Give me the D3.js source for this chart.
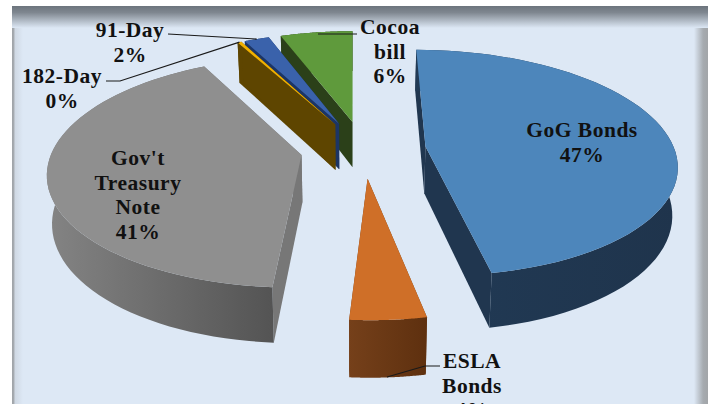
<!DOCTYPE html>
<html>
<head>
<meta charset="utf-8">
<script src="https://cdn.jsdelivr.net/npm/d3@7/dist/d3.min.js"></script>
<style>
html,body{margin:0;padding:0;background:#fff;overflow:hidden}
text{font-family:"Liberation Serif",serif;font-weight:700;fill:#111;font-size:21.5px;letter-spacing:.5px}
</style>
</head>
<body>
<svg id="chart" width="711" height="404"></svg>
<script>
// Portfolio shares, in drawing order around the pie (clockwise from twelve o'clock)
const categories = ["GoG Bonds", "ESLA Bonds", "Gov't Treasury Note", "182-Day", "91-Day", "Cocoa bill"];
const shares = [47.0, 4.1, 41.2, 0.3, 1.9, 5.5];
const shareLabels = ["47%", "4%", "41%", "0%", "2%", "6%"];
const topColors = ["#4d86bb", "#cf6f28", "#8f8f8f", "#f0b000", "#3a62ab", "#5f9a3c"];
const wallColors = ["#20364f", "#6f3b15", "#777777", "#5e4500", "#1c3565", "#2b4019"];
const rimStart = ["#213a55", "#75401a", "#848484", "#5e4500", "#1c3565", "#2b4019"];
const rimEnd = ["#1f344c", "#5e300f", "#545454", "#5e4500", "#1c3565", "#2b4019"];

// Camera model for the tilted disc: points converge on a vanishing point
const W = 711, H = 404;
const vanish = {x: 353, y: -615};
const planeY = 780;           // screen distance from the vanishing point at depth 0
const depthK = 5.95e-4;       // perspective strength
const radiusX = 254;
const radiusZ = 250;
const explode = 64;
const centre = {x: 10.5, z: 35};
const thickness = 48;
const lowerShrink = 0.983;

function project(X, Z, lower) {
  const s = 1 / (1 + depthK * Z);
  return [
    vanish.x + X * s * (lower ? lowerShrink : 1),
    vanish.y + planeY * s + (lower ? thickness * s : 0)
  ];
}

const svg = d3.select("#chart");
const defs = svg.append("defs");

// Panel backdrop with its soft bevel along the top and sides
const panel = {x: 12, y: 6, w: 696, h: 398};
const band = (id, x1, y1, x2, y2, stops) => {
  const g = defs.append("linearGradient").attr("id", id)
    .attr("x1", x1).attr("y1", y1).attr("x2", x2).attr("y2", y2);
  stops.forEach(([o, c]) => g.append("stop").attr("offset", o).attr("stop-color", c));
};
const paper = "#dde8f5";
band("bevelTop", 0, 0, 0, 1, [[0, "#6c747d"], [0.3, "#7f8790"], [1, paper]]);
band("bevelLeft", 0, 0, 1, 0, [[0, "#9fa3a7"], [0.2, "#a8adb3"], [0.25, "#cfd8e3"], [1, paper]]);
band("bevelRight", 1, 0, 0, 0, [[0, "#a2a5a8"], [0.35, "#a6abb0"], [1, paper]]);
const backdrop = [
  [panel.x, panel.y, panel.w, panel.h, paper],
  [panel.x, panel.y, 11, panel.h, "url(#bevelLeft)"],
  [panel.x + panel.w - 14, panel.y, 14, panel.h, "url(#bevelRight)"],
  [panel.x, panel.y, panel.w, 22, "url(#bevelTop)"]
];
svg.selectAll("rect.bg").data(backdrop).join("rect").attr("class", "bg")
  .attr("x", d => d[0]).attr("y", d => d[1]).attr("width", d => d[2]).attr("height", d => d[3]).attr("fill", d => d[4]);

const arcs = d3.pie().sort(null).value(d => d)(shares);
const line = d3.line();

// Geometry of one exploded slice, in disc coordinates
function sliceGeometry(a) {
  const mid = (a.startAngle + a.endAngle) / 2;
  const ax = centre.x + explode * Math.sin(mid);
  const az = centre.z + explode * Math.cos(mid);
  const steps = d3.range(0, 61).map(i => a.startAngle + (a.endAngle - a.startAngle) * i / 60);
  const rimPts = steps.map(t => [ax + radiusX * Math.sin(t), az + radiusZ * Math.cos(t)]);
  return {ax, az, rimPts, mid};
}

// Painter's order: back slices first, nearest slices last
const paintOrder = [5, 4, 3, 2, 0, 1];
const sliceLayer = svg.append("g");

paintOrder.forEach(i => {
  const a = arcs[i];
  const {ax, az, rimPts} = sliceGeometry(a);
  const g = sliceLayer.append("g").attr("class", "slice");

  const gradId = "rim" + i;
  const top = rimPts.map(p => project(p[0], p[1], false));
  const bottom = rimPts.map(p => project(p[0], p[1], true));
  const xs = d3.extent(top, p => p[0]);
  const lg = defs.append("linearGradient").attr("id", gradId).attr("gradientUnits", "userSpaceOnUse")
    .attr("x1", xs[0]).attr("x2", xs[1]).attr("y1", 0).attr("y2", 0);
  lg.append("stop").attr("offset", 0).attr("stop-color", rimStart[i]);
  lg.append("stop").attr("offset", 1).attr("stop-color", rimEnd[i]);

  const apexTop = project(ax, az, false), apexLow = project(ax, az, true);

  // Radial walls
  [0, rimPts.length - 1].forEach(k => {
    g.append("path").attr("fill", wallColors[i])
      .attr("d", line([apexTop, top[k], bottom[k], apexLow]) + "Z");
  });
  // Curved outer wall
  g.append("path").attr("fill", `url(#${gradId})`)
    .attr("d", line(top.concat(bottom.slice().reverse())) + "Z");
  // Top face
  g.append("path").attr("fill", topColors[i])
    .attr("d", line([apexTop].concat(top)) + "Z");
});

// Label blocks, one entry per line
const labelLines = [
  ["GoG Bonds", shareLabels[0]],
  ["ESLA", "Bonds", shareLabels[1]],
  ["Gov't", "Treasury", "Note", shareLabels[2]],
  ["182-Day", shareLabels[3]],
  ["91-Day", shareLabels[4]],
  ["Cocoa", "bill", shareLabels[5]]
];
const labelAnchor = [[582, 137], [472, 368], [138, 165], [62, 83], [130, 37], [390, 34]];
const lineStep = 24.5;

const labels = svg.append("g");
labelLines.forEach((rows, i) => {
  rows.forEach((row, r) => {
    labels.append("text").attr("text-anchor", "middle")
      .attr("x", labelAnchor[i][0]).attr("y", labelAnchor[i][1] + r * lineStep).text(row);
  });
});

// Leader lines run from the label to the slice it names
function rimMid(i, lower) {
  const {ax, az, mid} = sliceGeometry(arcs[i]);
  return project(ax + radiusX * Math.sin(mid), az + radiusZ * Math.cos(mid), lower);
}
const leaders = [
  [[440, 366], [425, 366], [387, 377]],
  [[106, 81], [120, 81], rimMid(3, false)],
  [[168, 34], rimMid(4, false)],
  [[357, 34], [318, 34]]
];
svg.selectAll("path.leader").data(leaders).join("path").attr("class", "leader")
  .attr("fill", "none").attr("stroke", "#1a1a1a").attr("stroke-width", 1.1)
  .attr("d", d => line(d));
</script>
</body>
</html>
